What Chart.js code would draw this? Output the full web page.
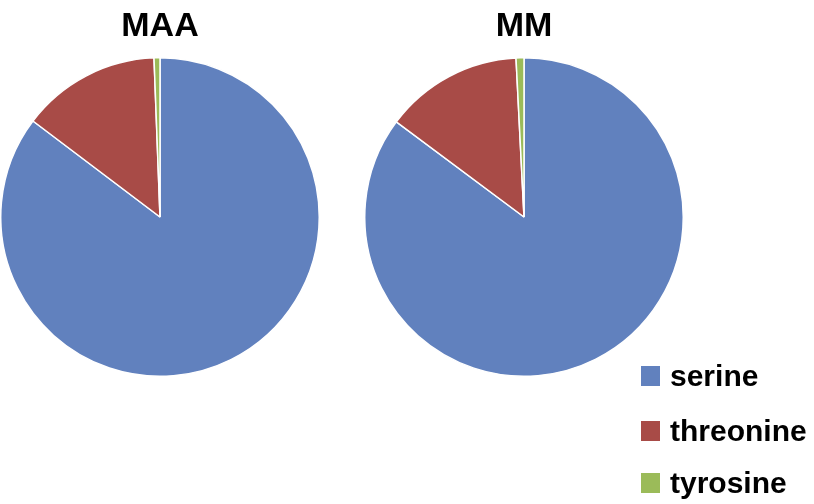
<!DOCTYPE html>
<html>
<head>
<meta charset="utf-8">
<script src="https://cdn.jsdelivr.net/npm/chart.js@4"></script>
<style>
  body { margin: 0; background: #fff; width: 814px; height: 504px; overflow: hidden; position: relative; font-family: "Liberation Sans", Arial, sans-serif; }
  .pie { position: absolute; top: 0; width: 320px; height: 377px; }
  #legend { position: absolute; left: 641px; top: 0; }
  .item { position: absolute; left: 0; display: flex; align-items: center; height: 30px; white-space: nowrap; }
  .box { width: 19px; height: 20px; margin-right: 10px; }
  .lbl { font-weight: bold; font-size: 30px; color: #000; }
</style>
</head>
<body>
<div class="pie" style="left:0px"><canvas id="pieMAA"></canvas></div>
<div class="pie" style="left:364px"><canvas id="pieMM"></canvas></div>
<div id="legend"></div>
<script>
const categories = ['serine', 'threonine', 'tyrosine']
const maaValues = [85.3, 14.1, 0.6]
const mmValues = [85.2, 14.0, 0.8]
const titles = ['MAA', 'MM']
const colors = ['#6181BE', '#A84B47', '#9BBB59']
const legendY = [376, 431, 483]

function makePie(id, title, values) {
  const ctx = document.getElementById(id).getContext('2d')
  return new Chart(ctx, {
    type: 'pie',
    data: {
      labels: categories,
      datasets: [
        {
          data: values,
          backgroundColor: colors,
          borderColor: '#fff',
          borderWidth: 1.5,
        },
      ],
    },
    options: {
      responsive: true,
      maintainAspectRatio: false,
      animation: false,
      layout: {padding: 0},
      plugins: {
        legend: {display: false},
        tooltip: {enabled: false},
        title: {
          display: true,
          text: title,
          color: '#000',
          font: {family: '"Liberation Sans", Arial, sans-serif', size: 34, weight: 'bold', lineHeight: 1.2},
          padding: {top: 6, bottom: 10.2},
        },
      },
    },
  })
}

makePie('pieMAA', titles[0], maaValues)
makePie('pieMM', titles[1], mmValues)

const legend = document.getElementById('legend')
categories.forEach((c, i) => {
  const item = document.createElement('div')
  item.className = 'item'
  item.style.top = legendY[i] - 15 + 'px'
  item.innerHTML = `<div class="box" style="background:${colors[i]}"></div><span class="lbl">${c}</span>`
  legend.appendChild(item)
})
</script>
</body>
</html>
